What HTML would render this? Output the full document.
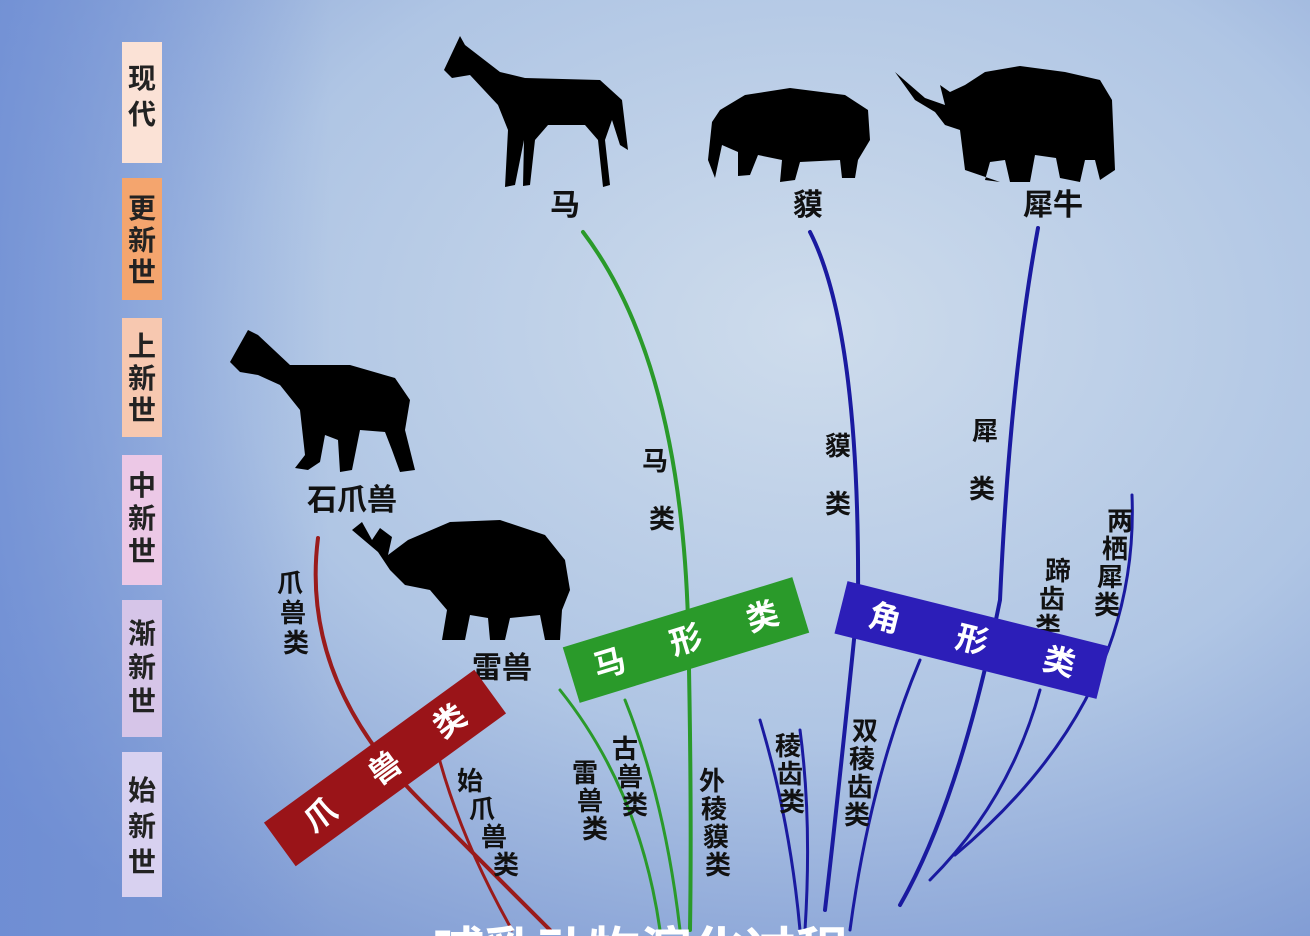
<!DOCTYPE html>
<html><head><meta charset="utf-8"><style>
html,body{margin:0;padding:0;width:1310px;height:936px;overflow:hidden}
svg{display:block;overflow:hidden}
text{font-family:"Liberation Sans","Noto Sans CJK SC",sans-serif;font-weight:bold}
</style></head><body>
<svg width="1310" height="936" viewBox="0 0 1310 936">
<defs>
<radialGradient id="bg" cx="0.62" cy="0.35" r="0.8">
<stop offset="0" stop-color="#cedcec"/><stop offset="0.55" stop-color="#afc5e4"/><stop offset="1" stop-color="#7b97d2"/>
</radialGradient>
<linearGradient id="lf" x1="0" x2="1"><stop offset="0" stop-color="#6a8ad4" stop-opacity="0.7"/><stop offset="1" stop-color="#6a8ad4" stop-opacity="0"/></linearGradient>
<clipPath id="cl"><rect x="0" y="0" width="1310" height="936"/></clipPath>
</defs>
<rect width="1310" height="936" fill="url(#bg)"/>
<rect width="330" height="936" fill="url(#lf)"/>

<g font-size="28" fill="#222" text-anchor="middle">
<rect x="122" y="42" width="40" height="121" fill="#fbe2d6"/>
<text x="142" y="88">现</text><text x="142" y="124">代</text>
<rect x="122" y="178" width="40" height="122" fill="#f4a56e"/>
<text x="142" y="218">更</text><text x="142" y="250">新</text><text x="142" y="282">世</text>
<rect x="122" y="318" width="40" height="119" fill="#f7c8b0"/>
<text x="142" y="356">上</text><text x="142" y="388">新</text><text x="142" y="420">世</text>
<rect x="122" y="455" width="40" height="130" fill="#ecc8e6"/>
<text x="142" y="495">中</text><text x="142" y="528">新</text><text x="142" y="561">世</text>
<rect x="122" y="600" width="40" height="137" fill="#d6c5e8"/>
<text x="142" y="643">渐</text><text x="142" y="677">新</text><text x="142" y="711">世</text>
<rect x="122" y="752" width="40" height="145" fill="#d8d1f0"/>
<text x="142" y="800">始</text><text x="142" y="836">新</text><text x="142" y="872">世</text>
</g>

<g fill="#000">
<path d="M444,70 L460,36 L465,45 L500,72 L525,78 L600,80 L622,100 L628,150 L620,145 L612,120 L605,140 L610,185 L603,187 L598,140 L585,125 L548,125 L535,140 L530,185 L523,186 L524,140 L515,185 L505,187 L508,130 L498,105 L470,75 L452,78 Z"/>
<path d="M712,122 L720,110 L745,95 L790,88 L845,95 L868,110 L870,140 L858,160 L855,178 L842,178 L840,160 L800,162 L795,180 L780,182 L782,160 L758,155 L750,175 L738,176 L738,152 L722,145 L715,178 L708,160 Z"/>
<path d="M895,72 L925,98 L945,105 L940,85 L950,92 L965,85 L985,72 L1020,66 L1065,72 L1100,80 L1112,100 L1115,170 L1100,180 L1095,160 L1085,160 L1080,182 L1060,178 L1056,158 L1035,155 L1030,182 L1010,182 L1005,160 L990,162 L985,180 L1000,182 L965,170 L960,130 L945,125 L935,112 L915,100 Z"/>
<path d="M230,362 L248,330 L258,335 L290,365 L350,365 L395,378 L410,400 L405,430 L415,470 L400,472 L392,450 L385,432 L360,430 L352,470 L340,472 L338,440 L325,435 L320,462 L308,470 L295,468 L305,455 L300,410 L280,385 L258,375 L240,372 Z"/>
<path d="M352,530 L362,522 L372,540 L380,528 L392,537 L388,555 L408,540 L450,522 L500,520 L545,535 L565,560 L570,590 L562,610 L560,640 L545,640 L540,615 L510,618 L505,640 L490,640 L488,618 L470,615 L465,640 L442,640 L447,610 L430,590 L405,585 L390,570 L378,552 Z"/>
</g>

<g font-size="30" fill="#111" text-anchor="middle">
<text x="565" y="215">马</text>
<text x="808" y="215">貘</text>
<text x="1053" y="215">犀牛</text>
<text x="352" y="510">石爪兽</text>
<text x="502" y="678">雷兽</text>
</g>

<g fill="none" stroke-width="4" stroke-linecap="round" clip-path="url(#cl)">
<path d="M318,538 Q300,680 420,800 Q490,870 550,930" stroke="#9a1b1b"/>
<path d="M430,720 Q450,820 512,930" stroke="#9a1b1b" stroke-width="3"/>
<path d="M583,232 Q680,360 688,620 Q692,800 690,930" stroke="#2a9a2a"/>
<path d="M560,690 Q640,790 660,930" stroke="#2a9a2a" stroke-width="3"/>
<path d="M625,700 Q665,800 680,930" stroke="#2a9a2a" stroke-width="3"/>
<path d="M810,232 Q860,330 858,600 Q840,780 825,910" stroke="#1a1aa0"/>
<path d="M1038,228 Q1010,380 1000,600 Q960,800 900,905" stroke="#1a1aa0"/>
<path d="M760,720 Q790,820 800,930" stroke="#1a1aa0" stroke-width="3"/>
<path d="M800,730 Q812,820 805,930" stroke="#1a1aa0" stroke-width="3"/>
<path d="M920,660 Q870,780 850,930" stroke="#1a1aa0" stroke-width="3"/>
<path d="M1040,690 Q1010,800 930,880" stroke="#1a1aa0" stroke-width="3"/>
<path d="M1132,495 Q1140,700 955,855" stroke="#1a1aa0" stroke-width="3"/>
</g>

<g font-size="26" fill="#111" text-anchor="middle">
<text x="655" y="470">马</text><text x="662" y="528">类</text>
<text x="838" y="455">貘</text><text x="838" y="513">类</text>
<text x="985" y="440">犀</text><text x="982" y="498">类</text>
<text x="290" y="592">爪</text><text x="293" y="622">兽</text><text x="296" y="652">类</text>
<text x="1120" y="530">两</text><text x="1115" y="558">栖</text><text x="1110" y="586">犀</text><text x="1107" y="614">类</text>
<text x="1058" y="580">蹄</text><text x="1052" y="608">齿</text><text x="1048" y="636">类</text>
<text x="470" y="790">始</text><text x="482" y="818">爪</text><text x="494" y="846">兽</text><text x="506" y="874">类</text>
<text x="585" y="782">雷</text><text x="590" y="810">兽</text><text x="595" y="838">类</text>
<text x="625" y="758">古</text><text x="630" y="786">兽</text><text x="635" y="814">类</text>
<text x="712" y="790">外</text><text x="714" y="818">稜</text><text x="716" y="846">貘</text><text x="718" y="874">类</text>
<text x="788" y="755">稜</text><text x="790" y="783">齿</text><text x="792" y="811">类</text>
<text x="865" y="740">双</text><text x="862" y="768">稜</text><text x="860" y="796">齿</text><text x="857" y="824">类</text>
</g>

<g font-size="32" fill="#fff" text-anchor="middle">
<g transform="translate(385,768) rotate(-36)">
<rect x="-130" y="-27" width="260" height="54" fill="#9a1418"/>
<text x="-80" y="11">爪</text><text x="0" y="11">兽</text><text x="80" y="11">类</text>
</g>
<g transform="translate(686,640) rotate(-17)">
<rect x="-120" y="-29" width="240" height="58" fill="#2a9a2a"/>
<text x="-80" y="11">马</text><text x="0" y="11">形</text><text x="80" y="11">类</text>
</g>
<g transform="translate(972,640) rotate(14)">
<rect x="-135" y="-27" width="270" height="54" fill="#2c1eb8"/>
<text x="-90" y="11">角</text><text x="0" y="11">形</text><text x="90" y="11">类</text>
</g>
</g>

<g clip-path="url(#cl)">
<text x="640" y="970" font-size="52" fill="#fff" text-anchor="middle">哺乳动物演化过程</text>
</g>
</svg>
</body></html>
